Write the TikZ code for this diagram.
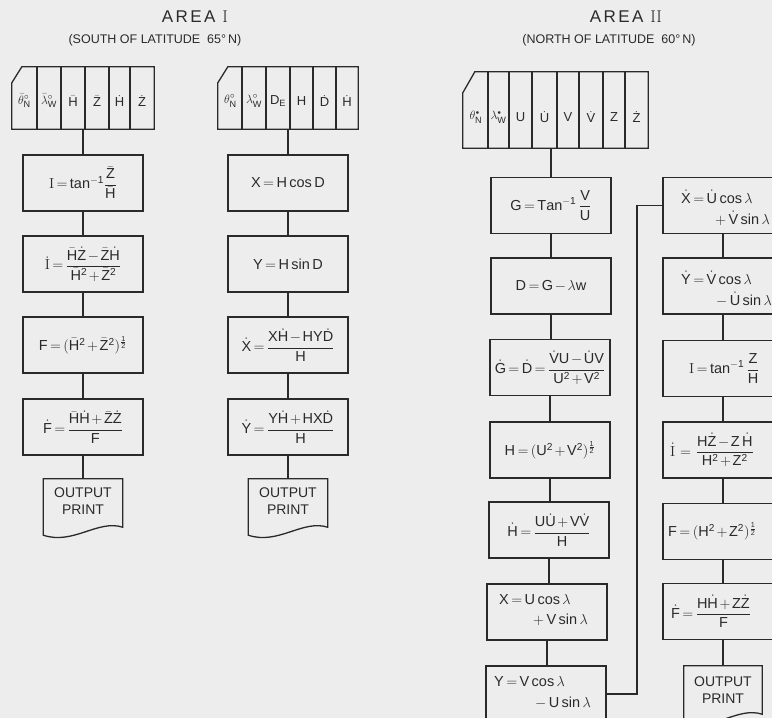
\documentclass[tikz,border=0pt]{standalone}
\usepackage{amsmath}
\usepackage{fontspec}
\setsansfont{Liberation Sans}
\newfontfamily\titlefont[LetterSpace=14]{Liberation Sans}
\usetikzlibrary{calc}
\definecolor{ink}{HTML}{2A2A2A}
\definecolor{paper}{HTML}{EDEDED}
\newcommand\sv[1]{\mathsf{#1}}
\newcommand\dv[1]{\dot{\mathsf{#1}}}
\newcommand\bv[1]{\bar{\mathsf{#1}}}
\newcommand\rI{\mathrm{I}}
\newcommand\fsz{\sffamily\fontsize{14.5}{17}\selectfont}
\newcommand\csz{\sffamily\fontsize{13}{15}\selectfont}
\newcommand\osz{\sffamily\fontsize{14}{17}\selectfont}
\thickmuskip=3mu plus 2mu
\medmuskip=2mu plus 1mu
\tikzset{
  boxline/.style={draw=ink, line width=1.3pt},
  flowbox/.style={boxline, minimum width=120pt, minimum height=56pt, inner sep=0pt, font=\fsz, text=ink},
  conn/.style={draw=ink, line width=1.9pt},
  ftxt/.style={font=\fsz, text=ink, inner sep=0pt, anchor=west},
  ctxt/.style={font=\csz, text=ink, inner sep=0pt},
  outnode/.style={minimum width=79pt, minimum height=56pt, inner sep=0pt},
  otxt/.style={font=\osz, text=ink, align=center, inner sep=0pt},
  ttl/.style={font=\titlefont\fontsize{17}{20}\selectfont, text=ink},
  subttl/.style={font=\sffamily\fontsize{12.5}{15}\selectfont, text=ink},
  cardnode/.style={inner sep=0pt}
}
\newcommand\docpath[1]{\draw[boxline] (#1.north west) -- (#1.north east) -- ($(#1.south east)+(0,-8)$) .. controls ($(#1.south east)+(-25,-16)$) and ($(#1.south west)+(30,10)$) .. (#1.south west) -- cycle;}
\newcommand\cardpath[3]{\draw[boxline] ($(#1.north west)+(0,#2)$) -- ($(#1.north west)+(#3,0)$) -- (#1.north east) -- (#1.south east) -- (#1.south west) -- cycle;}
\begin{document}
\begin{tikzpicture}[x=1pt,y=-1pt]
\useasboundingbox (0,0) rectangle (772,718);
\clip (0,0) rectangle (772,718);
\fill[paper] (0,0) rectangle (772,718);

% titles
\node[ttl] (t1) at (195,16.5) {AREA {\rmfamily I}};
\node[subttl] (s1) at (155,40) {(SOUTH OF LATITUDE\ \ 65°\,N)};
\node[ttl] (t2) at (626,16.5) {AREA {\rmfamily II}};
\node[subttl] (s2) at (609,40) {(NORTH OF LATITUDE\ \ 60°\,N)};

% ---------- cards ----------
\node[cardnode, minimum width=142pt, minimum height=62pt] (card1) at (83,98) {};
\cardpath{card1}{16}{10}
\foreach \x in {37,61,85,109,130} {\draw[boxline] (\x,67) -- (\x,129);}
\node[ctxt] (k1a) at (24.5,101) {$\bar\theta^{\circ}_{\sv{N}}$};
\node[ctxt] (k1b) at (49,101) {$\bar\lambda^{\circ}_{\sv{W}}$};
\node[ctxt] (k1c) at (73,101) {$\bv{H}$};
\node[ctxt] (k1d) at (97,101) {$\bv{Z}$};
\node[ctxt] (k1e) at (119.5,101) {$\dv{H}$};
\node[ctxt] (k1f) at (142,101) {$\dv{Z}$};

\node[cardnode, minimum width=140pt, minimum height=62pt] (card2) at (288,98) {};
\cardpath{card2}{16}{10}
\foreach \x in {242,266,290,313,336} {\draw[boxline] (\x,67) -- (\x,129);}
\node[ctxt] (k2a) at (230.5,101) {$\theta^{\circ}_{\sv{N}}$};
\node[ctxt] (k2b) at (254,101) {$\lambda^{\circ}_{\sv{W}}$};
\node[ctxt] (k2c) at (278,101) {$\sv{D}_{\sv{E}}$};
\node[ctxt] (k2d) at (301.5,101) {$\sv{H}$};
\node[ctxt] (k2e) at (324.5,101) {$\dv{D}$};
\node[ctxt] (k2f) at (347,101) {$\dv{H}$};

\node[cardnode, minimum width=185pt, minimum height=76pt] (card3) at (555.5,110) {};
\cardpath{card3}{21}{12}
\foreach \x in {488,509,532,557,579,603,625} {\draw[boxline] (\x,72) -- (\x,148);}
\node[ctxt] (k3a) at (476,117) {$\theta^{\scriptscriptstyle\bullet}_{\sv{N}}$};
\node[ctxt] (k3b) at (498.5,117) {$\lambda^{\scriptscriptstyle\bullet}_{\sv{W}}$};
\node[ctxt] (k3c) at (520.5,117) {$\sv{U}$};
\node[ctxt] (k3d) at (544.5,117) {$\dv{U}$};
\node[ctxt] (k3e) at (568,117) {$\sv{V}$};
\node[ctxt] (k3f) at (591,117) {$\dv{V}$};
\node[ctxt] (k3g) at (614,117) {$\sv{Z}$};
\node[ctxt] (k3h) at (636.5,117) {$\dv{Z}$};

% ---------- Area I, column 1 ----------
\node[flowbox] (a1) at (83,183) {$\rI = \sv{tan}^{\sv{-1}}\dfrac{\bv{Z}}{\bv{H}}$};
\node[flowbox] (a2) at (83,264) {$\dot\rI = \dfrac{\bv{H}\dv{Z} - \bv{Z}\dv{H}}{\bv{H}^{\sv{2}} + \bv{Z}^{\sv{2}}}$};
\node[flowbox] (a3) at (83,345) {$\sv{F} = (\bv{H}^{\sv{2}} + \bv{Z}^{\sv{2}})^{\frac{\sv{1}}{\sv{2}}}$};
\node[flowbox] (a4) at (83,427) {$\dv{F} = \dfrac{\bv{H}\dv{H} + \bv{Z}\dv{Z}}{\sv{F}}$};
\node[outnode] (o1) at (83,507) {};
\docpath{o1}
\node[otxt] (o1t) at (83,501) {OUTPUT\\PRINT};
\draw[conn] (card1) -- (a1);
\draw[conn] (a1) -- (a2);
\draw[conn] (a2) -- (a3);
\draw[conn] (a3) -- (a4);
\draw[conn] (a4) -- (o1);

% ---------- Area I, column 2 ----------
\node[flowbox] (b1) at (288,183) {$\sv{X} = \sv{H}\;\sv{cos}\,\sv{D}$};
\node[flowbox] (b2) at (288,264) {$\sv{Y} = \sv{H}\;\sv{sin}\,\sv{D}$};
\node[flowbox] (b3) at (288,345) {$\dv{X} = \dfrac{\sv{X}\dv{H} - \sv{HY}\dv{D}}{\sv{H}}$};
\node[flowbox] (b4) at (288,427) {$\dv{Y} = \dfrac{\sv{Y}\dv{H} + \sv{HX}\dv{D}}{\sv{H}}$};
\node[outnode] (o2) at (288,507) {};
\docpath{o2}
\node[otxt] (o2t) at (288,501) {OUTPUT\\PRINT};
\draw[conn] (card2) -- (b1);
\draw[conn] (b1) -- (b2);
\draw[conn] (b2) -- (b3);
\draw[conn] (b3) -- (b4);
\draw[conn] (b4) -- (o2);

% ---------- Area II, left column ----------
\node[flowbox] (c1) at (551,205.5) {$\sv{G} = \sv{Tan}^{\sv{-1}}\,\dfrac{\sv{V}}{\sv{U}}$};
\node[flowbox] (c2) at (551,286) {$\sv{D} = \sv{G} - \lambda\sv{w}$};
\node[flowbox] (c3) at (550,367.5) {$\dv{G} = \dv{D} = \dfrac{\dv{V}\sv{U} - \dv{U}\sv{V}}{\sv{U}^{\sv{2}} + \sv{V}^{\sv{2}}}$};
\node[flowbox] (c4) at (550,450) {$\sv{H} = (\sv{U}^{\sv{2}} + \sv{V}^{\sv{2}})^{\frac{\sv{1}}{\sv{2}}}$};
\node[flowbox] (c5) at (549,530) {$\dv{H} = \dfrac{\sv{U}\dv{U} + \sv{V}\dv{V}}{\sv{H}}$};
\node[flowbox] (c6) at (547,612) {};
\node[ftxt] (c6a) at (499,600) {$\sv{X} = \sv{U}\;\sv{cos}\;\lambda$};
\node[ftxt] (c6b) at (533,620) {$+\,\sv{V}\;\sv{sin}\;\lambda$};
\node[flowbox] (c7) at (546,694) {};
\node[ftxt] (c7a) at (494,682) {$\sv{Y} = \sv{V}\;\sv{cos}\;\lambda$};
\node[ftxt] (c7b) at (535,703) {$-\,\sv{U}\;\sv{sin}\;\lambda$};
\draw[conn] (card3.south -| c1) -- (c1);
\draw[conn] (c1) -- (c2);
\draw[conn] (c2.south) -- (c3.north -| c2);
\draw[conn] (c3) -- (c4);
\draw[conn] (c4.south) -- (c5.north -| c4);
\draw[conn] (c5.south) -- (c6.north -| c5);
\draw[conn] (c6.south) -- (c7.north -| c6);

% ---------- Area II, right column ----------
\node[flowbox] (d1) at (723,205.5) {};
\node[ftxt] (d1a) at (681,197) {$\dv{X} = \dv{U}\;\sv{cos}\;\lambda$};
\node[ftxt] (d1b) at (715,218) {$+\,\dv{V}\;\sv{sin}\;\lambda$};
\node[flowbox] (d2) at (723,286) {};
\node[ftxt] (d2a) at (681,278) {$\dv{Y} = \dv{V}\;\sv{cos}\;\lambda$};
\node[ftxt] (d2b) at (716,299) {$-\,\dv{U}\;\sv{sin}\;\lambda$};
\node[flowbox] (d3) at (723,368.5) {};
\node[ftxt] (d3a) at (689,368.5) {$\rI = \sv{tan}^{\sv{-1}}\,\dfrac{\sv{Z}}{\sv{H}}$};
\node[flowbox] (d4) at (723,450) {};
\node[ftxt] (d4a) at (670,450) {$\dot\rI\; = \;\dfrac{\sv{H}\dv{Z} - \sv{Z}\,\dv{H}}{\sv{H}^{\sv{2}} + \sv{Z}^{\sv{2}}}$};
\node[flowbox] (d5) at (723,531.5) {};
\node[ftxt] (d5a) at (668,531.5) {$\sv{F} = (\sv{H}^{\sv{2}} + \sv{Z}^{\sv{2}})^{\frac{\sv{1}}{\sv{2}}}$};
\node[flowbox] (d6) at (723,611.5) {};
\node[ftxt] (d6a) at (671,611.5) {$\dv{F} = \dfrac{\sv{H}\dv{H} + \sv{Z}\dv{Z}}{\sv{F}}$};
\node[outnode, minimum width=78pt] (o3) at (723,694) {};
\docpath{o3}
\node[otxt] (o3t) at (723,690) {OUTPUT\\PRINT};
\draw[conn] (d1) -- (d2);
\draw[conn] (d2) -- (d3);
\draw[conn] (d3) -- (d4);
\draw[conn] (d4) -- (d5);
\draw[conn] (d5) -- (d6);
\draw[conn] (d6) -- (o3);

% long connector
\coordinate (bend) at (637,205.5);
\draw[conn] (c7.east) -| (bend) -- (d1.west);
\end{tikzpicture}
\end{document}
